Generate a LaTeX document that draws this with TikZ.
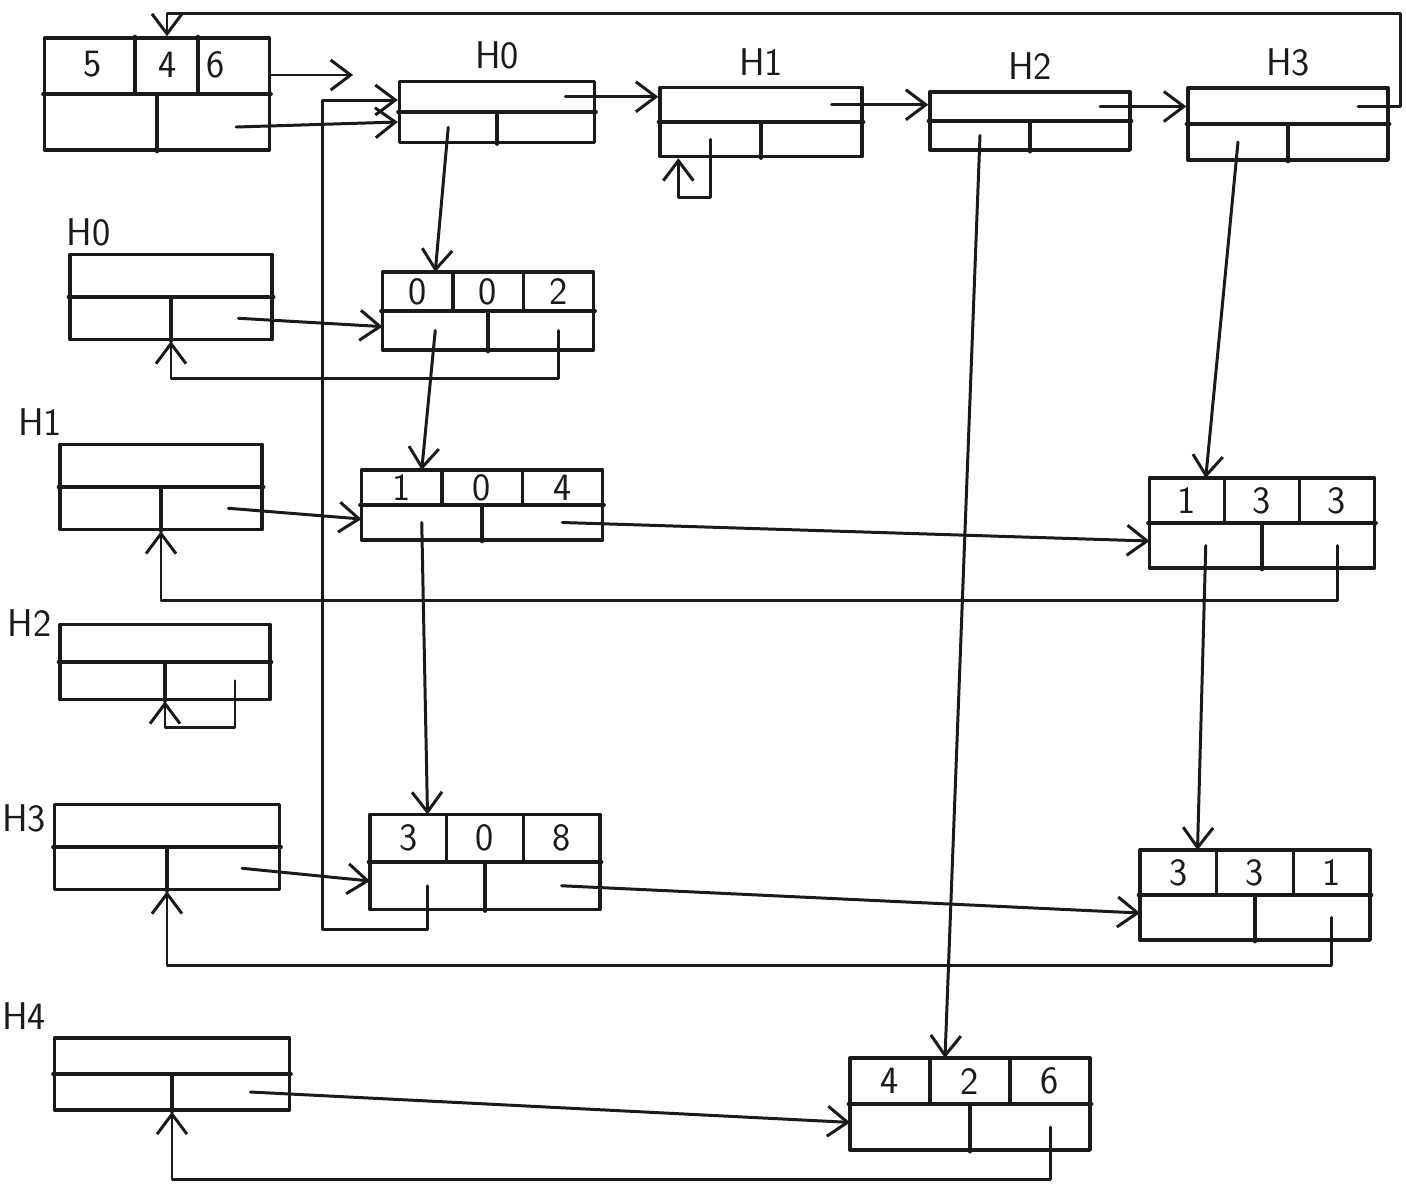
\documentclass[tikz,border=0pt]{standalone}
\usepackage{xcolor}
\usepackage{tikz}
\usetikzlibrary{arrows.meta,calc,positioning}
\definecolor{smInk}{HTML}{1A1A1A}
\tikzset{
  sm diagram/.style={font=\sffamily\fontsize{22}{26}\selectfont, text=smInk,
    color=smInk, line width=1.9pt, line cap=round, line join=round},
  sm box/.style={draw=smInk, rectangle, inner sep=0pt, line width=1.9pt},
  sm ptr/.style={-{Straight Barb[length=4mm,width=6mm]}, draw=smInk, line width=1.7pt},
  sm label/.style={font=\sffamily\fontsize{22}{26}\selectfont, text=smInk, inner sep=3pt},
  sm value/.style={font=\sffamily\fontsize{22}{26}\selectfont, text=smInk, inner sep=0pt}
}
\begin{document}
\begin{tikzpicture}[sm diagram,x=0.02cm,y=-0.02cm]
\fill[white] (0,0) rectangle (1406,1184);
\useasboundingbox (0,0) rectangle (1406,1184);
\node[sm box,minimum width=4.5cm,minimum height=2.24cm] (hdr) at (157,94) {};
\draw (hdr.west) -- (hdr.east);
\draw (hdr.center) -- (hdr.south);
\foreach \dx in {92,155}
  \draw ($(hdr.north west)+(\dx,0)$) -- ($(hdr.west)+(\dx,0)$);
\foreach \dx/\v in {50/5,125/4,173/6}
  \node[sm value] at ($(hdr.north west)+(\dx,28)$) {\v};
\foreach \n/\x/\y/\w/\h in {c0/497/112/195/61,c1/761/122/202/69,c2/1030/121/200/58,
    c3/1288/124/200/72,r0/171/297/202/85,r1/161/487/202/85,r2/165/662/210/75,
    r3/167/847/225/85,r4/172/1074/235/72}{
  \node[sm box,minimum width=\w*0.02cm,minimum height=\h*0.02cm] (\n) at (\x,\y) {};
  \draw (\n.west) -- (\n.east);
  \draw (\n.center) -- (\n.south);
  \coordinate (\n-next) at (\x+0.35*\w,\y-\h/4);
  \coordinate (\n-down) at (\x-\w/4,\y+\h/4);
  \coordinate (\n-right) at (\x+\w/3,\y+\h/4);
}
\foreach \n/\x/\y/\w/\h/\va/\vb/\vc in {e002/488/311/211/78/0/0/2,e104/482/505/241/70/1/0/4,
    e133/1262/523/225/90/1/3/3,e308/485/862/230/95/3/0/8,e331/1255/895/230/90/3/3/1,
    e426/970/1104/240/92/4/2/6}{
  \node[sm box,minimum width=\w*0.02cm,minimum height=\h*0.02cm] (\n) at (\x,\y) {};
  \draw (\n.west) -- (\n.east);
  \draw (\n.center) -- (\n.south);
  \draw (\x-\w/6,\y-\h/2) -- (\x-\w/6,\y);
  \draw (\x+\w/6,\y-\h/2) -- (\x+\w/6,\y);
  \node[sm value] at (\x-\w/3,\y-\h/4) {\va};
  \node[sm value] at (\x,\y-\h/4) {\vb};
  \node[sm value] at (\x+\w/3,\y-\h/4) {\vc};
  \coordinate (\n-top) at (\x-\w/4,\y-\h/2);
  \coordinate (\n-in) at (\x-\w/2,\y+\h/5);
  \coordinate (\n-down) at (\x-\w/4,\y+\h/4);
  \coordinate (\n-right) at (\x+\w/3,\y+\h/4);
}
\node[sm label,above=2pt] at (c0.north) {H0};
\node[sm label,above=2pt] at (c1.north) {H1};
\node[sm label,above=2pt] at (c2.north) {H2};
\node[sm label,above=2pt] at (c3.north) {H3};
\node[sm label,anchor=south west,xshift=-5pt] at (r0.north west) {H0};
\node[sm label,anchor=south east,xshift=6pt] at (r1.north west) {H1};
\node[sm label,anchor=east] at (r2.north west) {H2};
\node[sm label,anchor=north east,yshift=3pt] at (r3.north west) {H3};
\node[sm label,anchor=south east] at (r4.north west) {H4};
\draw[sm ptr] ($(hdr.east)+(0,-19)$) -- ++(82,0);
\draw[sm ptr] ($(hdr.east)+(-35,33)$) -- ($(c0.west)+(0,10)$);
\draw[sm ptr] (c3-next) -- ++(42,0) |- ($(hdr.north)+(10,-23)$) -- ($(hdr.north)+(10,0)$);
\draw[sm ptr] (c0-next) -- (c0-next -| c1.west);
\draw[sm ptr] (c1-next) -- (c1-next -| c2.west);
\draw[sm ptr] (c2-next) -- (c2-next -| c3.west);
\draw[sm ptr] (c1-down) -- ++(0,58) -| ($(c1.south west)+(20,0)$);
\draw[sm ptr] (c0-down) -- (e002-top);
\draw[sm ptr] (c2-down) -- ($(e426-top)+(35,0)$);
\draw[sm ptr] (c3-down) -- (e133-top);
\draw[sm ptr] (e002-down) -- (e104-top);
\draw[sm ptr] (e104-down) -- (e308-top);
\draw[sm ptr] (e133-down) -- (e331-top);
\draw[sm ptr] (e308-down) -- ++(0,44) -| ($(c0.west)+(-75,-12)$) -- ($(c0.west)+(0,-12)$);
\draw[sm ptr] (r0-right) -- (e002-in);
\draw[sm ptr] (r1-right) -- (e104-in);
\draw[sm ptr] (r3-right) -- (e308-in);
\draw[sm ptr] (r4-right) -- (e426-in);
\draw[sm ptr] (e104-right) -- (e133-in);
\draw[sm ptr] (e308-right) -- (e331-in);
\draw[sm ptr] (e002-right) -- ++(0,48) -| (r0.south);
\draw[sm ptr] (e133-right) -- ++(0,55) -| (r1.south);
\draw[sm ptr] (r2-right) -- ++(0,47) -| (r2.south);
\draw[sm ptr] (e331-right) -- ++(0,48) -| (r3.south);
\draw[sm ptr] (e426-right) -- ++(0,52) -| (r4.south);
\end{tikzpicture}
\end{document}
